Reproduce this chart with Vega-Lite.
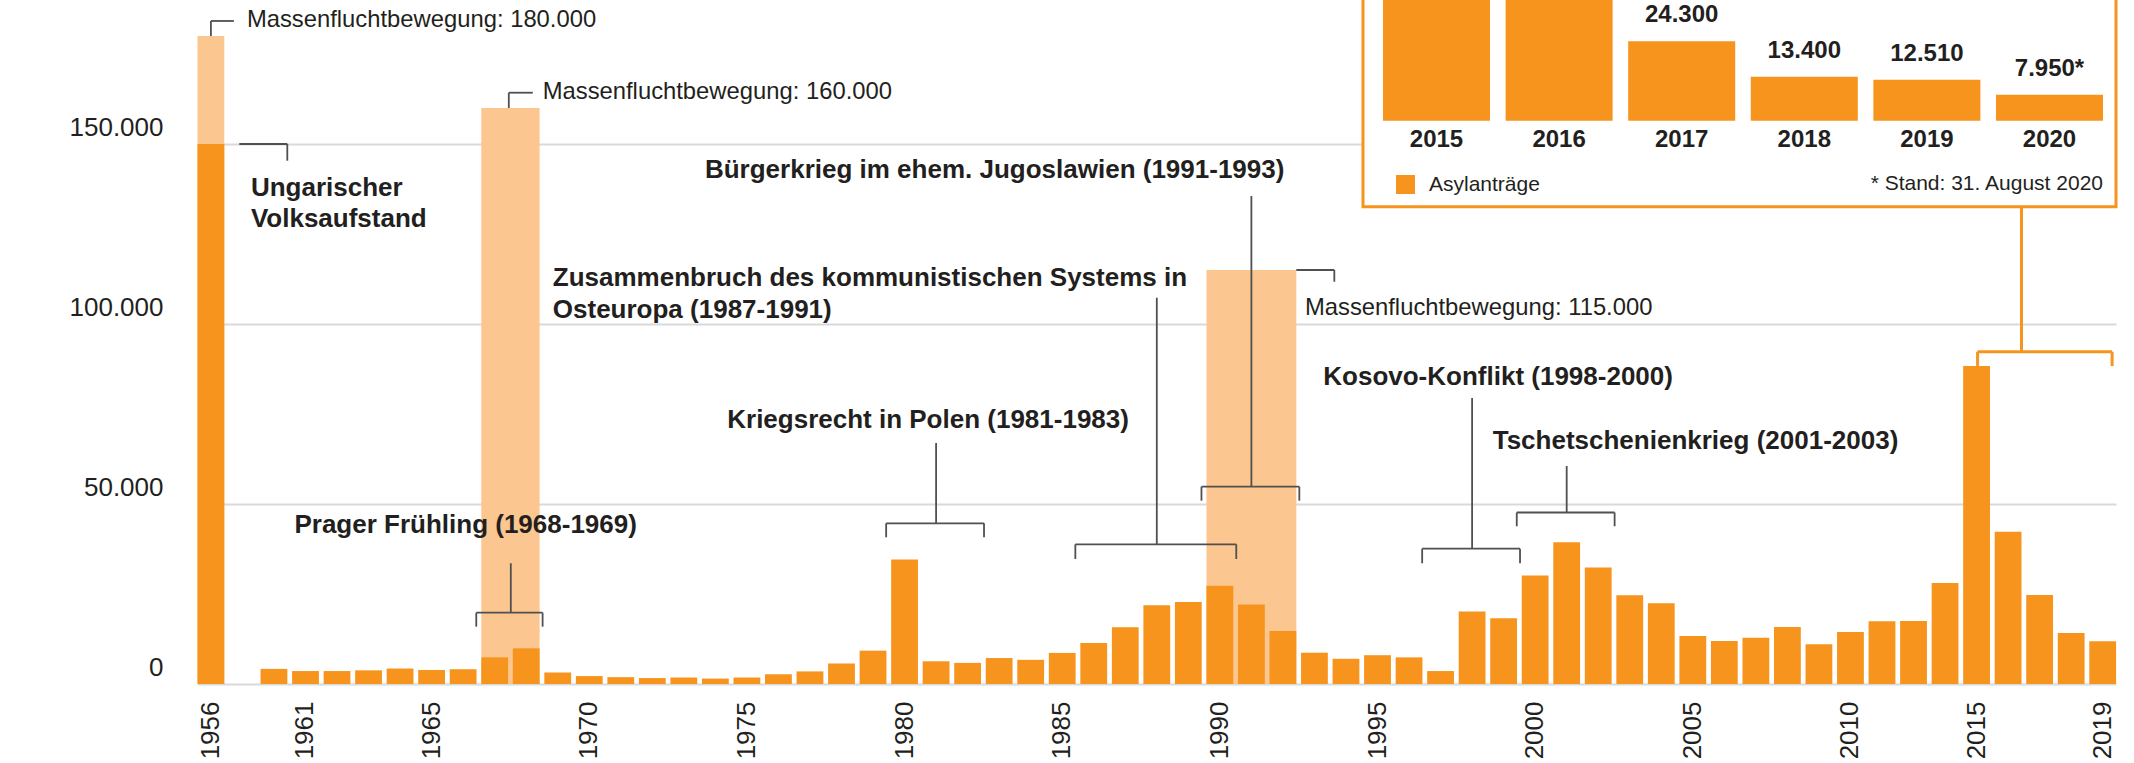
{
  "$schema": "https://vega.github.io/schema/vega-lite/v6.json",
  "width": 2078,
  "height": 684,
  "autosize": {"type": "none"},
  "padding": {"left": 40, "top": 0, "right": 16, "bottom": 79},
  "background": "white",
  "config": {
    "view": {"stroke": null},
    "font": "Liberation Sans",
    "axis": {"title": null}
  },
  "datasets": {
    "asyl": [
      {"year": 1956, "value": 150000},
      {"year": 1961, "value": 4200}, {"year": 1962, "value": 3600}, {"year": 1963, "value": 3600},
      {"year": 1964, "value": 3800}, {"year": 1965, "value": 4300}, {"year": 1966, "value": 3900},
      {"year": 1967, "value": 4100}, {"year": 1968, "value": 7400}, {"year": 1969, "value": 9900},
      {"year": 1970, "value": 3200}, {"year": 1971, "value": 2200}, {"year": 1972, "value": 1900},
      {"year": 1973, "value": 1650}, {"year": 1974, "value": 1800}, {"year": 1975, "value": 1500},
      {"year": 1976, "value": 1800}, {"year": 1977, "value": 2700}, {"year": 1978, "value": 3500},
      {"year": 1979, "value": 5700}, {"year": 1980, "value": 9259}, {"year": 1981, "value": 34557},
      {"year": 1982, "value": 6314}, {"year": 1983, "value": 5868}, {"year": 1984, "value": 7208},
      {"year": 1985, "value": 6724}, {"year": 1986, "value": 8639}, {"year": 1987, "value": 11406},
      {"year": 1988, "value": 15790}, {"year": 1989, "value": 21882}, {"year": 1990, "value": 22789},
      {"year": 1991, "value": 27306}, {"year": 1992, "value": 22100}, {"year": 1993, "value": 14700},
      {"year": 1994, "value": 8700}, {"year": 1995, "value": 7000}, {"year": 1996, "value": 8000},
      {"year": 1997, "value": 7400}, {"year": 1998, "value": 3600}, {"year": 1999, "value": 20129},
      {"year": 2000, "value": 18284}, {"year": 2001, "value": 30135}, {"year": 2002, "value": 39354},
      {"year": 2003, "value": 32359}, {"year": 2004, "value": 24634}, {"year": 2005, "value": 22461},
      {"year": 2006, "value": 13349}, {"year": 2007, "value": 11921}, {"year": 2008, "value": 12841},
      {"year": 2009, "value": 15821}, {"year": 2010, "value": 11012}, {"year": 2011, "value": 14416},
      {"year": 2012, "value": 17413}, {"year": 2013, "value": 17503}, {"year": 2014, "value": 28027},
      {"year": 2015, "value": 88340}, {"year": 2016, "value": 42285}, {"year": 2017, "value": 24735},
      {"year": 2018, "value": 14200}, {"year": 2019, "value": 11900}
    ],
    "flucht": [
      {"from": 1956, "to": 1956, "value": 180000},
      {"from": 1968, "to": 1969, "value": 160000},
      {"from": 1991, "to": 1993, "value": 115000}
    ],
    "brackets": [
      {"event": "Prager Frühling", "from": 1968, "to": 1969, "top": 33530, "level": 19810, "tick": 15920},
      {"event": "Kriegsrecht in Polen", "from": 1981, "to": 1983, "mid": 1982, "top": 66940, "level": 44640, "tick": 40750},
      {"event": "Zusammenbruch", "from": 1987, "to": 1991, "mid": 1989, "top": 107300, "level": 38800, "tick": 34720},
      {"event": "Jugoslawien", "from": 1991, "to": 1993, "mid": 1992, "top": 135560, "level": 54810, "tick": 50920},
      {"event": "Kosovo", "from": 1998, "to": 2000, "mid": 1999, "top": 79440, "level": 37580, "tick": 33530},
      {"event": "Tschetschenien", "from": 2001, "to": 2003, "mid": 2002, "top": 60560, "level": 47640, "tick": 43810}
    ],
    "inset": [
      {"year": 2015, "value": 88340, "series": "Asylanträge"},
      {"year": 2016, "value": 42285, "series": "Asylanträge"},
      {"year": 2017, "value": 24300, "label": "24.300", "series": "Asylanträge"},
      {"year": 2018, "value": 13400, "label": "13.400", "series": "Asylanträge"},
      {"year": 2019, "value": 12510, "label": "12.510", "series": "Asylanträge"},
      {"year": 2020, "value": 7950, "label": "7.950*", "series": "Asylanträge"}
    ]
  },
  "layer": [
    {
      "layer": [
        {
          "data": {"name": "flucht"},
          "mark": {"type": "rect", "color": "#fcc690"},
          "encoding": {
            "x": {"field": "from", "type": "ordinal", "bandPosition": 0},
            "x2": {"field": "to", "bandPosition": 1},
            "y": {"field": "value", "type": "quantitative"},
            "y2": {"datum": 0}
          }
        },
        {
          "data": {"name": "asyl"},
          "mark": {"type": "bar", "color": "#f7941d"},
          "encoding": {
            "x": {
              "field": "year", "type": "ordinal",
              "scale": {
                "domain": [1956, 1957, 1961, 1962, 1963, 1964, 1965, 1966, 1967, 1968, 1969, 1970, 1971, 1972, 1973, 1974, 1975, 1976, 1977, 1978, 1979, 1980, 1981, 1982, 1983, 1984, 1985, 1986, 1987, 1988, 1989, 1990, 1991, 1992, 1993, 1994, 1995, 1996, 1997, 1998, 1999, 2000, 2001, 2002, 2003, 2004, 2005, 2006, 2007, 2008, 2009, 2010, 2011, 2012, 2013, 2014, 2015, 2016, 2017, 2018, 2019],
                "range": [157.5, 2076.1],
                "paddingInner": 0.15, "paddingOuter": 0
              },
              "axis": {
                "values": [1956, 1962, 1966, 1971, 1976, 1981, 1986, 1991, 1996, 2001, 2006, 2011, 2015, 2019],
                "labelExpr": "datum.value == 1956 || datum.value >= 2015 ? '' + datum.value : '' + (datum.value - 1)",
                "labelAngle": 270, "labelAlign": "right", "labelBaseline": "middle",
                "labelPadding": 17, "labelFontSize": 26, "labelColor": "#231f20",
                "ticks": false, "domain": false, "grid": false,
                "labelOverlap": false, "labelBound": false, "labelFlush": false
              }
            },
            "y": {
              "field": "value", "type": "quantitative",
              "scale": {"domain": [0, 190000], "nice": false},
              "axis": {
                "values": [0, 50000, 100000, 150000],
                "labelExpr": "datum.value == 0 ? '0' : format(datum.value / 1000, 'd') + '.000'",
                "grid": true, "gridColor": "#d9d9d9", "gridWidth": 2,
                "domain": false, "ticks": false,
                "labelPadding": -123, "labelAlign": "right", "labelBaseline": "alphabetic",
                "labelOffset": -9, "labelFontSize": 26, "labelColor": "#231f20",
                "labelOverlap": false, "labelBound": false, "labelFlush": false
              }
            }
          }
        },
        {
          "data": {"name": "brackets"},
          "mark": {"type": "rule", "color": "#505050", "strokeWidth": 1.8, "xOffset": -5, "x2Offset": 3},
          "encoding": {
            "x": {"field": "from", "type": "ordinal", "bandPosition": 0},
            "x2": {"field": "to", "bandPosition": 1},
            "y": {"field": "level", "type": "quantitative"}
          }
        },
        {
          "data": {"name": "brackets"},
          "mark": {"type": "rule", "color": "#505050", "strokeWidth": 1.8, "xOffset": -5},
          "encoding": {
            "x": {"field": "from", "type": "ordinal", "bandPosition": 0},
            "y": {"field": "level", "type": "quantitative"},
            "y2": {"field": "tick"}
          }
        },
        {
          "data": {"name": "brackets"},
          "mark": {"type": "rule", "color": "#505050", "strokeWidth": 1.8, "xOffset": 3},
          "encoding": {
            "x": {"field": "to", "type": "ordinal", "bandPosition": 1},
            "y": {"field": "level", "type": "quantitative"},
            "y2": {"field": "tick"}
          }
        },
        {
          "data": {"name": "brackets"},
          "transform": [{"filter": "isValid(datum.mid)"}],
          "mark": {"type": "rule", "color": "#505050", "strokeWidth": 1.8},
          "encoding": {
            "x": {"field": "mid", "type": "ordinal", "bandPosition": 0.5},
            "y": {"field": "top", "type": "quantitative"},
            "y2": {"field": "level"}
          }
        },
        {
          "data": {"name": "brackets"},
          "transform": [{"filter": "!isValid(datum.mid)"}],
          "mark": {"type": "rule", "color": "#505050", "strokeWidth": 1.8, "xOffset": -2},
          "encoding": {
            "x": {"field": "to", "type": "ordinal", "bandPosition": 0},
            "y": {"field": "top", "type": "quantitative"},
            "y2": {"field": "level"}
          }
        },
        {
          "data": {"values": [{"year": 1956, "value": 180000, "hook": 184170}]},
          "mark": {"type": "rule", "color": "#505050", "strokeWidth": 1.8},
          "encoding": {
            "x": {"field": "year", "type": "ordinal", "bandPosition": 0.5},
            "y": {"field": "value", "type": "quantitative"},
            "y2": {"field": "hook"}
          }
        },
        {
          "data": {"values": [{"year": 1956, "hook": 184170}]},
          "mark": {"type": "rule", "color": "#505050", "strokeWidth": 1.8, "x2Offset": 23},
          "encoding": {
            "x": {"field": "year", "type": "ordinal", "bandPosition": 0.5},
            "x2": {"field": "year", "bandPosition": 0.5},
            "y": {"field": "hook", "type": "quantitative"}
          }
        },
        {
          "data": {"values": [{"year": 1969, "value": 160000, "hook": 164250}]},
          "mark": {"type": "rule", "color": "#505050", "strokeWidth": 1.8, "xOffset": -4},
          "encoding": {
            "x": {"field": "year", "type": "ordinal", "bandPosition": 0},
            "y": {"field": "value", "type": "quantitative"},
            "y2": {"field": "hook"}
          }
        },
        {
          "data": {"values": [{"year": 1969, "hook": 164250}]},
          "mark": {"type": "rule", "color": "#505050", "strokeWidth": 1.8, "xOffset": -4, "x2Offset": 20},
          "encoding": {
            "x": {"field": "year", "type": "ordinal", "bandPosition": 0},
            "x2": {"field": "year", "bandPosition": 0},
            "y": {"field": "hook", "type": "quantitative"}
          }
        },
        {
          "data": {"values": [{"year": 1993, "value": 115000, "hook": 111750}]},
          "mark": {"type": "rule", "color": "#505050", "strokeWidth": 1.8, "x2Offset": 38},
          "encoding": {
            "x": {"field": "year", "type": "ordinal", "bandPosition": 1},
            "x2": {"field": "year", "bandPosition": 1},
            "y": {"field": "value", "type": "quantitative"}
          }
        },
        {
          "data": {"values": [{"year": 1993, "value": 115000, "hook": 111750}]},
          "mark": {"type": "rule", "color": "#505050", "strokeWidth": 1.8, "xOffset": 38},
          "encoding": {
            "x": {"field": "year", "type": "ordinal", "bandPosition": 1},
            "y": {"field": "value", "type": "quantitative"},
            "y2": {"field": "hook"}
          }
        },
        {
          "data": {"values": [{"year": 1956, "value": 150000, "hook": 145360}]},
          "mark": {"type": "rule", "color": "#505050", "strokeWidth": 1.8, "xOffset": 15, "x2Offset": 63},
          "encoding": {
            "x": {"field": "year", "type": "ordinal", "bandPosition": 1},
            "x2": {"field": "year", "bandPosition": 1},
            "y": {"field": "value", "type": "quantitative"}
          }
        },
        {
          "data": {"values": [{"year": 1956, "value": 150000, "hook": 145360}]},
          "mark": {"type": "rule", "color": "#505050", "strokeWidth": 1.8, "xOffset": 63},
          "encoding": {
            "x": {"field": "year", "type": "ordinal", "bandPosition": 1},
            "y": {"field": "value", "type": "quantitative"},
            "y2": {"field": "hook"}
          }
        },
        {
          "data": {"values": [{"from": 2015, "to": 2019, "mid": 2016, "box": 132500, "level": 92300, "tick": 88340}]},
          "mark": {"type": "rule", "color": "#f7941d", "strokeWidth": 3},
          "encoding": {
            "x": {"field": "mid", "type": "ordinal", "bandPosition": 1},
            "y": {"field": "box", "type": "quantitative"},
            "y2": {"field": "level"}
          }
        },
        {
          "data": {"values": [{"from": 2015, "to": 2019, "level": 92300, "tick": 88340}]},
          "mark": {"type": "rule", "color": "#f7941d", "strokeWidth": 3, "xOffset": 1, "x2Offset": -4},
          "encoding": {
            "x": {"field": "from", "type": "ordinal", "bandPosition": 0.5},
            "x2": {"field": "to", "bandPosition": 1},
            "y": {"field": "level", "type": "quantitative"}
          }
        },
        {
          "data": {"values": [{"from": 2015, "to": 2019, "level": 92300, "tick": 88340}]},
          "mark": {"type": "rule", "color": "#f7941d", "strokeWidth": 3, "xOffset": 1},
          "encoding": {
            "x": {"field": "from", "type": "ordinal", "bandPosition": 0.5},
            "y": {"field": "level", "type": "quantitative"},
            "y2": {"field": "tick"}
          }
        },
        {
          "data": {"values": [{"from": 2015, "to": 2019, "level": 92300, "tick": 88340}]},
          "mark": {"type": "rule", "color": "#f7941d", "strokeWidth": 3, "xOffset": -4},
          "encoding": {
            "x": {"field": "to", "type": "ordinal", "bandPosition": 1},
            "y": {"field": "level", "type": "quantitative"},
            "y2": {"field": "tick"}
          }
        },
        {
          "data": {"values": [{"text": "Massenfluchtbewegung: 180.000", "year": 1956, "level": 182500}]},
          "mark": {"type": "text", "align": "left", "baseline": "alphabetic", "dx": 36, "fontSize": 23.8, "color": "#231f20"},
          "encoding": {
            "x": {"field": "year", "type": "ordinal"},
            "y": {"field": "level", "type": "quantitative"},
            "text": {"field": "text"}
          }
        },
        {
          "data": {"values": [{"text": ["Ungarischer", "Volksaufstand"], "year": 1956, "level": 135500}]},
          "mark": {"type": "text", "align": "left", "baseline": "alphabetic", "dx": 40, "fontSize": 26, "fontWeight": "bold", "lineHeight": 31, "color": "#231f20"},
          "encoding": {
            "x": {"field": "year", "type": "ordinal"},
            "y": {"field": "level", "type": "quantitative"},
            "text": {"field": "text"}
          }
        },
        {
          "data": {"values": [{"text": "Massenfluchtbewegung: 160.000", "year": 1968, "level": 162500}]},
          "mark": {"type": "text", "align": "left", "baseline": "alphabetic", "dx": 48, "fontSize": 23.8, "color": "#231f20"},
          "encoding": {
            "x": {"field": "year", "type": "ordinal"},
            "y": {"field": "level", "type": "quantitative"},
            "text": {"field": "text"}
          }
        },
        {
          "data": {"values": [{"text": "Prager Frühling (1968-1969)", "year": 1968, "level": 42000}]},
          "mark": {"type": "text", "align": "center", "baseline": "alphabetic", "dx": -29, "fontSize": 26, "fontWeight": "bold", "color": "#231f20"},
          "encoding": {
            "x": {"field": "year", "type": "ordinal"},
            "y": {"field": "level", "type": "quantitative"},
            "text": {"field": "text"}
          }
        },
        {
          "data": {"values": [{"text": "Kriegsrecht in Polen (1981-1983)", "year": 1982, "level": 71200}]},
          "mark": {"type": "text", "align": "center", "baseline": "alphabetic", "dx": -8, "fontSize": 26, "fontWeight": "bold", "color": "#231f20"},
          "encoding": {
            "x": {"field": "year", "type": "ordinal"},
            "y": {"field": "level", "type": "quantitative"},
            "text": {"field": "text"}
          }
        },
        {
          "data": {"values": [{"text": ["Zusammenbruch des kommunistischen Systems in", "Osteuropa (1987-1991)"], "year": 1989, "level": 110500}]},
          "mark": {"type": "text", "align": "left", "baseline": "alphabetic", "dx": -604, "fontSize": 26, "fontWeight": "bold", "lineHeight": 32, "color": "#231f20"},
          "encoding": {
            "x": {"field": "year", "type": "ordinal"},
            "y": {"field": "level", "type": "quantitative"},
            "text": {"field": "text"}
          }
        },
        {
          "data": {"values": [{"text": "Bürgerkrieg im ehem. Jugoslawien (1991-1993)", "year": 1992, "level": 140500}]},
          "mark": {"type": "text", "align": "right", "baseline": "alphabetic", "dx": 33, "fontSize": 26, "fontWeight": "bold", "color": "#231f20"},
          "encoding": {
            "x": {"field": "year", "type": "ordinal"},
            "y": {"field": "level", "type": "quantitative"},
            "text": {"field": "text"}
          }
        },
        {
          "data": {"values": [{"text": "Massenfluchtbewegung: 115.000", "year": 1993, "level": 102500}]},
          "mark": {"type": "text", "align": "left", "baseline": "alphabetic", "dx": 22, "fontSize": 23.8, "color": "#231f20"},
          "encoding": {
            "x": {"field": "year", "type": "ordinal"},
            "y": {"field": "level", "type": "quantitative"},
            "text": {"field": "text"}
          }
        },
        {
          "data": {"values": [{"text": "Kosovo-Konflikt (1998-2000)", "year": 1999, "level": 83000}]},
          "mark": {"type": "text", "align": "center", "baseline": "alphabetic", "dx": 26, "fontSize": 26, "fontWeight": "bold", "color": "#231f20"},
          "encoding": {
            "x": {"field": "year", "type": "ordinal"},
            "y": {"field": "level", "type": "quantitative"},
            "text": {"field": "text"}
          }
        },
        {
          "data": {"values": [{"text": "Tschetschenienkrieg (2001-2003)", "year": 2002, "level": 65200}]},
          "mark": {"type": "text", "align": "left", "baseline": "alphabetic", "dx": -74, "fontSize": 26, "fontWeight": "bold", "color": "#231f20"},
          "encoding": {
            "x": {"field": "year", "type": "ordinal"},
            "y": {"field": "level", "type": "quantitative"},
            "text": {"field": "text"}
          }
        }
      ]
    },
    {
      "layer": [
        {
          "data": {"values": [{"from": 2015, "to": 2020, "base": 0, "top": 60000}]},
          "mark": {"type": "rect", "fill": "white", "stroke": "#f7941d", "strokeWidth": 3, "xOffset": -20, "x2Offset": 13, "yOffset": 86},
          "encoding": {
            "x": {"field": "from", "type": "ordinal", "bandPosition": 0, "axis": null},
            "x2": {"field": "to", "bandPosition": 1},
            "y": {"field": "base", "type": "quantitative", "axis": null},
            "y2": {"field": "top"}
          }
        },
        {
          "data": {"name": "inset"},
          "mark": {"type": "bar"},
          "encoding": {
            "x": {
              "field": "year", "type": "ordinal",
              "scale": {"domain": [2015, 2016, 2017, 2018, 2019, 2020], "range": [1343, 2063], "paddingInner": 0.127, "paddingOuter": 0},
              "axis": null
            },
            "y": {
              "field": "value", "type": "quantitative",
              "scale": {"domain": [-172265, 36909], "nice": false, "zero": false},
              "axis": null
            },
            "color": {
              "field": "series", "type": "nominal",
              "scale": {"range": ["#f7941d"]},
              "legend": {
                "orient": "none", "legendX": 1355, "legendY": 174, "title": null,
                "symbolType": "square", "symbolSize": 361, "symbolStrokeWidth": 0,
                "labelFontSize": 21, "labelOffset": 13, "labelColor": "#231f20",
                "padding": 0, "zindex": 1
              }
            }
          }
        },
        {
          "data": {"name": "inset"},
          "transform": [{"filter": "isValid(datum.label)"}],
          "mark": {"type": "text", "align": "center", "baseline": "alphabetic", "dy": -19, "fontSize": 24, "fontWeight": "bold", "color": "#231f20"},
          "encoding": {
            "x": {"field": "year", "type": "ordinal", "axis": null},
            "y": {"field": "value", "type": "quantitative", "axis": null},
            "text": {"field": "label"}
          }
        },
        {
          "data": {"name": "inset"},
          "mark": {"type": "text", "align": "center", "baseline": "alphabetic", "dy": 26, "fontSize": 24, "fontWeight": "bold", "color": "#231f20"},
          "encoding": {
            "x": {"field": "year", "type": "ordinal", "axis": null},
            "y": {"datum": 0, "type": "quantitative", "axis": null},
            "text": {"field": "year", "type": "nominal"}
          }
        },
        {
          "data": {"values": [{"year": 2020, "note": "* Stand: 31. August 2020"}]},
          "mark": {"type": "text", "align": "right", "baseline": "alphabetic", "dy": 69, "fontSize": 21, "color": "#231f20"},
          "encoding": {
            "x": {"field": "year", "type": "ordinal", "bandPosition": 1, "axis": null},
            "y": {"datum": 0, "type": "quantitative", "axis": null},
            "text": {"field": "note"}
          }
        }
      ]
    }
  ],
  "resolve": {"scale": {"x": "independent", "y": "independent"}}
}
